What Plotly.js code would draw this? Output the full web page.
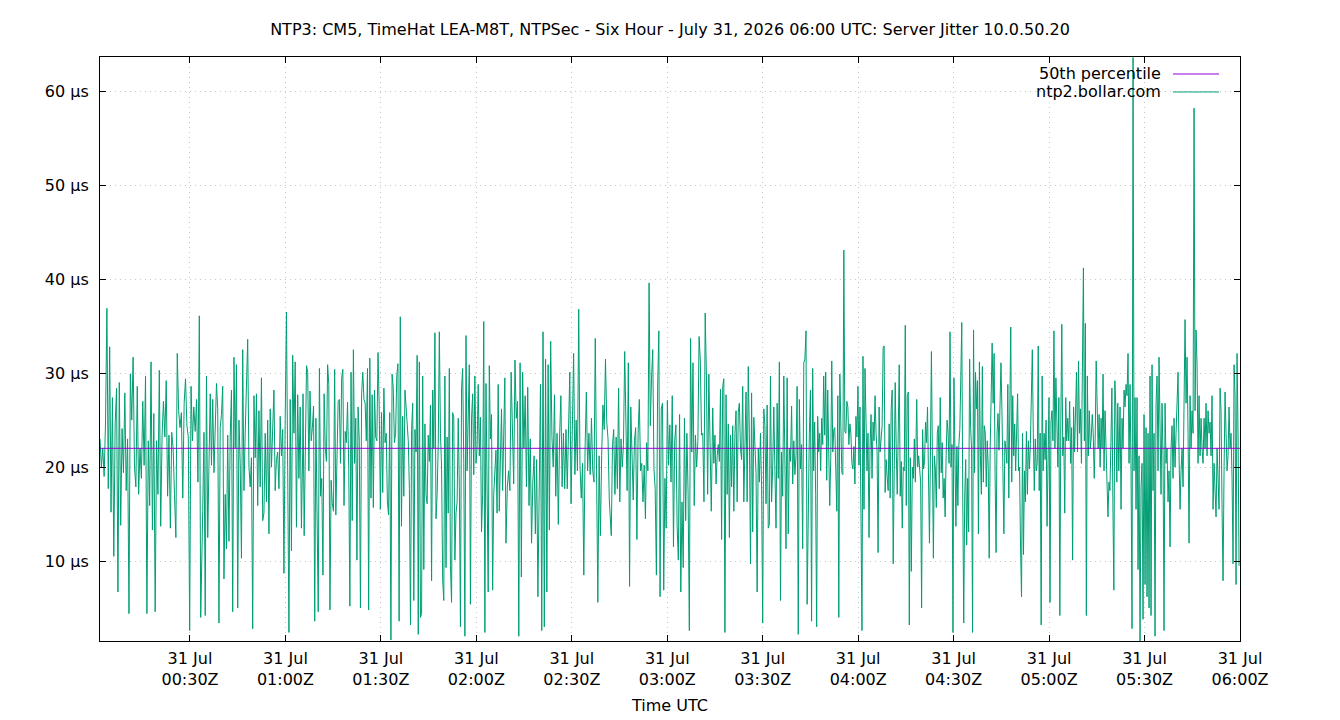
<!DOCTYPE html>
<html>
<head>
<meta charset="utf-8">
<script src="https://cdn.plot.ly/plotly-3.0.1.min.js"></script>
<style>
  html, body { margin: 0; padding: 0; background: #ffffff; }
  #chart { width: 1340px; height: 720px; }
</style>
</head>
<body>
<div id="chart"></div>
<script>
// Server jitter samples for 10.0.50.20 (µs), grouped by half-hour-ish polling blocks.
const day = '2026-07-31';

const jitter_0001 = [23, 20, 22, 19, 24.8, 36.9, 17.7, 32.8, 15.2, 27.4, 10.5, 24.6, 28.4, 6.7, 29, 13.8, 24.1, 19.4, 27.9, 17.5, 23, 4.4, 29.9, 25, 31.7, 20, 17.9, 28.6, 17.1, 22, 18.8, 27, 20.2, 29.7, 4.4, 22.8, 15.9, 31.2, 13.3, 25.7, 4.6, 22.8, 17.1, 30.3, 13.7, 23.4, 27, 23.2, 29.2, 16.9, 23.4, 13.5, 23.7, 22, 17.1, 12.5, 32.1, 26, 24.2, 25.8, 16.7, 26.8, 29.4, 24.4, 23.2, 2.6, 28.6, 22.8, 26.4, 23.8, 27.2, 18.4, 36.1, 4.0];
const jitter_0034 = [15.3, 23.7, 4.2, 29.7, 12.5, 18.4, 27.8, 20.2, 27.2, 19.4, 25.2, 28.9, 26.2, 3.4, 24.2, 25.6, 28.6, 8.1, 17.1, 11.3, 23.4, 12.1, 23.2, 28.2, 4.6, 31.7, 22, 30.9, 5.0, 25, 20.4, 10.3, 32.5, 17.5, 23.6, 27.6, 33.6, 20, 17.9, 21, 2.8, 27.6, 21, 27.8, 15.9, 26, 17.9, 29.5, 14.3, 15.1, 23.6, 16.3, 25, 12.9, 26.2, 20, 24.2, 28.2, 17.5, 20.8, 21.6, 17.7, 25.4, 21.2, 24, 8.7, 25.2, 36.5, 19.6, 2.4, 27.2, 11.1, 31.9, 23.6, 31.2, 13.6, 27.7, 18.8, 26.4, 13.5, 21.6];
const jitter_0105 = [27.8, 12.7, 20.4, 30.8, 30.1, 19.6, 28.1, 22.8, 24.2, 26.5, 3.6, 25.2, 14.9, 4.6, 30.5, 16.9, 18.8, 8.5, 27.8, 22, 20.6, 30.9, 28.8, 4.8, 18.6, 16.1, 15.3, 30.4, 14.9, 21.2, 27, 27.2, 20.4, 29.5, 30.4, 15.9, 23.8, 22.6, 26.9, 19.8, 5.2, 30.1, 14.3, 32.5, 20.4, 25.2, 10.1, 26.4, 22.8, 5.0, 27.8, 30.1, 27.2, 26.8, 22.8, 30.5, 4.8, 31.6, 16.7, 27.7, 15.7, 28.2, 23.2, 22.8, 32.2, 26.4, 15.5, 25.8, 17.3, 28.4, 22.6, 23.6, 16.3, 14.9, 25.8, 1.6, 29.9, 28.4, 22.6, 23.6, 29.7, 31, 3.6, 36, 13.7, 25.4, 16.9, 28.2];
const jitter_0138 = [22.8, 17.7, 3.2, 24, 26.8, 5.8, 24, 21.6, 31.9, 2.2, 31.2, 4.0, 4.4, 29.7, 9.1, 24.6, 17.1, 16.1, 23.4, 20.6, 26.6, 7.9, 28.2, 22, 34.3, 14.5, 17.1, 22.4, 34.4, 23.6, 20, 7.9, 5.8, 29.7, 9.3, 23.2, 15.1, 30.5, 9.5, 5.6, 25.8, 25.3, 10.1, 15.1, 16.3, 25.2, 17.9, 3.0, 28.4, 30.5, 20.4, 2.0, 34, 19.6, 25.2, 30.9, 5.4, 25.2, 27.8, 19.2, 29.7, 20.4, 22, 28.8, 21.2, 25.3, 13.1, 17.1, 35.5, 2.4, 28.9, 20.6, 6.7, 30.8, 23, 25.6, 6.9, 17.1, 19.6, 21.8, 15.1, 28.8, 15.3, 21.2, 26.2, 17.5, 22.4, 29.5, 11.9];
const jitter_0209 = [17.9, 19.6, 17.5, 30.1, 22.8, 18.2, 31.4, 25.2, 27, 2.0, 31.1, 8.3, 30.1, 22, 27.6, 17.9, 28.5, 15.9, 23, 11.9, 18.4, 21.2, 12.9, 20.8, 6.2, 21.2, 28.8, 2.6, 34.4, 3.0, 31.5, 6.7, 30.9, 13.3, 33.4, 23.2, 20, 27.7, 16.9, 23.6, 13.9, 23.2, 27.6, 17.9, 23.6, 17.7, 24, 17.7, 26.2, 30.1, 16.1, 23.2, 32.1, 19.2, 25, 19.6, 36.8, 20.2, 16.7, 20.4, 8.5, 22, 28, 19.6, 23.6, 19.2, 25.2, 19.6, 18.4, 33.7, 21.6, 5.6, 21.2, 12.7, 21.2, 26.6, 24, 31.5, 24.8, 23, 16.5];
const jitter_0242 = [12.7, 22.4, 24, 17.1, 23.2, 17.7, 28.4, 16.3, 23, 20, 22.4, 32.3, 24.8, 17.5, 31.1, 7.3, 26.4, 21.6, 16.5, 22.8, 24.2, 12.3, 23.6, 27.2, 19.6, 20.4, 16.3, 20.2, 14.5, 22.6, 19.6, 39.6, 24.4, 29.4, 32.5, 19.8, 17.7, 8.5, 28.4, 34.5, 6.2, 26.2, 26.8, 6.9, 18.8, 13.5, 27.1, 20.2, 24.5, 18.4, 27.6, 11.5, 22.8, 24.5, 13.7, 10.1, 25.6, 6.7, 16.3, 9.3, 25.2, 14.3, 23.6, 17.1, 2.6, 33.7, 21.6, 31.1, 15.9, 23.4, 20, 22.8, 33.9, 31.4, 23.4, 23.6, 16.3, 36.4, 29.7, 17.1, 29.9, 22.6, 15.3];
const jitter_0314 = [26.3, 20.4, 23.4, 18.2, 21.2, 22.4, 20.6, 28.3, 12.3, 28.6, 29.4, 2.4, 27.7, 17.1, 24.6, 12.5, 23.4, 17.9, 24.4, 15.3, 23.6, 26, 16.3, 25.8, 26.8, 22, 20.8, 28.6, 16.3, 24.4, 28, 16.3, 30.7, 23.6, 9.7, 27.9, 13.1, 25.3, 21.6, 19.4, 6.7, 22, 18.4, 23.6, 17.9, 3.4, 26.2, 24.4, 16.1, 26.6, 13.5, 13.9, 29.7, 16.3, 20, 26.4, 19.6, 13.5, 26.8, 18.8, 31.2, 5.8, 21.6, 16.9, 29.7, 19.6, 11.3, 29.5, 12.9, 22, 20.6, 26.5, 18.2, 22.8, 19.2, 21.2, 28.6, 2.2, 27.2, 19.8, 22.4, 11.3, 31.1, 31.5, 34.5, 5.4, 16.9, 23.6, 28.2, 3.6, 30.5];
const jitter_0346 = [19.6, 24.8, 17.1, 3.0, 25.4, 21.6, 23.6, 19.6, 25.2, 22.4, 29.7, 23.4, 30.1, 18.6, 28.2, 21.6, 15.9, 21, 31.3, 21.6, 24, 24.2, 17.9, 15.3, 27.6, 4.0, 29.9, 26, 19.4, 19.2, 43.1, 23.8, 23.6, 27, 26.4, 22.4, 24.6, 23.6, 20.4, 19.8, 22.2, 18.2, 25.4, 23.2, 28.6, 20.2, 26.4, 14.9, 2.6, 31.8, 15.5, 30.5, 22.8, 19.6, 23.6, 12.5, 22, 25.6, 18.8, 24.8, 22.8, 27.6, 23.6, 21.6, 10.9, 26.4, 21.6, 23.2, 24.4, 32.7, 32.9, 17.3, 20.8, 19, 17.5, 24.6, 16.7, 26.2, 28.2, 9.7, 19.6, 29, 22, 17.1, 23.6, 30.9, 16.9, 20.6, 13.5, 20, 19.6, 35.1, 15.9, 27.6, 28, 3.2, 21, 8.9, 20, 18.8, 23, 18.4];
const jitter_0418 = [27.2, 20, 21.2, 20, 18.4, 5.0, 24, 19.8, 20.6, 24.8, 22.6, 26.4, 18.8, 11.9, 21.6, 32.3, 21.2, 10.3, 21.2, 19.8, 15.7, 23.6, 24.4, 17.7, 27.4, 19.4, 22.6, 16.7, 18.8, 14.7, 21.2, 25, 23.6, 20.4, 34.4, 20, 22.4, 2.4, 29.5, 23.2, 13.7, 22.2, 15.9, 22.4, 24, 29.5, 35.4, 16.7, 3.4, 16.9, 20.8, 11.7, 18.8, 13.1, 31.5, 24.2, 22, 2.4, 34.6, 19.4, 30.1, 26.2, 29.2, 12.9, 31.2, 21.2, 17.1, 30.7, 18.4, 24.4, 23.6, 17.9, 22.8, 20, 10.3, 22, 29.7, 33.2, 26.8, 32.1, 19.2, 10.9, 23.6, 25.7, 21.8, 27, 31.1, 26, 20.4, 12.9, 22.8, 22, 20.4, 28.8, 16.7, 26.4, 34.9, 18.4, 27.6, 21.2, 24.6, 19.6, 26.2];
const jitter_0450 = [27.8, 19.6, 20, 11.5, 6.2, 23.6, 10.7, 19.6, 16.3, 23.8, 17.1, 22.8, 19.8, 22.4, 28, 32.5, 23.6, 17.5, 23, 19.6, 20.4, 32.9, 17.5, 23.6, 3.2, 29.7, 19.6, 23.6, 20.8, 25, 13.7, 22, 27.4, 5.6, 24.8, 26, 22.8, 34.5, 22, 29.5, 23.2, 20, 27.4, 4.2, 24.6, 35.2, 21.2, 23.2, 15.1, 27.4, 22.8, 25.2, 22.8, 27, 20.4, 24.2, 10.1, 26.4, 21.6, 26, 30.1, 21.6, 31.3, 23.6, 26.2, 20.4, 30.9, 41.2, 22.8, 35.3, 4.2, 29.7, 21.2, 26, 22, 23.2, 25.6, 23.6, 18.8, 23.2, 31.3, 25.2, 22, 25.6, 20, 25.2, 22, 29.9, 19.6, 26, 21.2, 18.8, 14.7, 18.4, 17.5, 22.6, 28.4, 16.3, 6.9, 29.2, 26.4, 18.4, 26.8, 19.6];
const jitter_0522 = [26.4, 15.5, 25.2, 22, 28.2, 26.4, 28.8, 27.6, 32.1, 20.4, 28.8, 19.6, 2.8, 63.6, 19.6, 27.4, 15.5, 27.4, 9.1, 21.2, 1.5, 17.9, 20.4, 3.8, 25.6, 7.5, 24.2, 6.2, 23.6, 5.0, 29.7, 4.2, 30.9, 17.5, 23.6, 2.0, 26.8, 29.7, 19.6, 31.7, 21.2, 17.1, 26.8, 21.2, 2.6, 26.8, 20.4, 22, 16.3, 19.6, 11.5, 22, 24.4, 18.8, 25.2, 20, 23.6, 28.4, 30.1, 21.2, 15.5, 19.6, 22, 17.9, 26, 35.7, 26.8, 31.7, 23.6, 11.9, 27.6, 22, 26, 23.6, 58.2, 26, 34.6, 30.9, 20.4, 27.6, 21.2, 25.2, 22, 20.4, 25.2, 22, 26.8, 21.2, 26, 23.6, 24.8, 21.2, 27.6, 15.5, 20.4, 17.9, 14.7, 22, 17.5, 15.5, 28.4, 26, 15.5, 7.9, 19.6, 28, 23.6, 19.6, 21.2, 26.4, 22, 23.6, 18.8, 9.7, 30.9, 27.6, 7.5, 32.1, 23.6, 9.5];

// First and last sample time of each block (UTC)
const blockStart = ['00:01:43', '00:34:00', '01:05:31', '01:38:36', '02:09:44', '02:42:24', '03:14:17', '03:46:00', '04:18:24', '04:50:06', '05:22:18'];
const blockEnd   = ['00:33:22', '01:05:25', '01:37:34', '02:09:18', '02:41:47', '03:13:50', '03:45:42', '04:17:58', '04:49:48', '05:21:54', '05:59:42'];
const blockValues = [jitter_0001, jitter_0034, jitter_0105, jitter_0138, jitter_0209, jitter_0242, jitter_0314, jitter_0346, jitter_0418, jitter_0450, jitter_0522];

// 50th percentile of the jitter over the window (µs)
const p50Jitter = 22.0;

const yTickVals = [10, 20, 30, 40, 50, 60];
const yTickText = ['10 µs', '20 µs', '30 µs', '40 µs', '50 µs', '60 µs'];
const xTickTimes = ['00:30', '01:00', '01:30', '02:00', '02:30', '03:00', '03:30', '04:00', '04:30', '05:00', '05:30', '06:00'];
const xTickText = xTickTimes.map(t => '31 Jul<br>' + t + 'Z');

const rangeStart = day + ' 00:01:43';
const rangeEnd = day + ' 06:00:00';
const yRange = [1.49, 63.65];

function toMs(hms) {
  return Date.parse(day + 'T' + hms + 'Z');
}
function fmt(ms) {
  return new Date(ms).toISOString().replace('T', ' ').replace('Z', '');
}

// Spread each block's samples across its own time span
const times = [];
const jitter = [];
blockValues.forEach((vals, b) => {
  const t0 = toMs(blockStart[b]);
  const t1 = toMs(blockEnd[b]);
  const step = vals.length > 1 ? (t1 - t0) / (vals.length - 1) : 0;
  vals.forEach((v, i) => {
    times.push(fmt(t0 + i * step));
    jitter.push(v);
  });
});

const FONT = '"DejaVu Sans", "Liberation Sans", sans-serif';
const FS = 16;

const traces = [
  {
    type: 'scatter', mode: 'lines',
    x: times, y: jitter,
    line: { color: '#009e73', width: 1 },
    name: 'ntp2.bollar.com',
    hoverinfo: 'skip'
  },
  {
    type: 'scatter', mode: 'lines',
    x: [rangeStart, rangeEnd], y: [p50Jitter, p50Jitter],
    line: { color: '#9400d3', width: 1 },
    name: '50th percentile',
    hoverinfo: 'skip'
  }
];

const gridCol = '#c8c8c8';

const layout = {
  width: 1340, height: 720,
  paper_bgcolor: '#ffffff', plot_bgcolor: '#ffffff',
  margin: { l: 100, r: 100, t: 57, b: 79, pad: 0 },
  showlegend: false,
  font: { family: FONT, size: FS, color: '#000000' },
  title: {
    text: 'NTP3: CM5, TimeHat LEA-M8T, NTPSec - Six Hour - July 31, 2026 06:00 UTC: Server Jitter 10.0.50.20',
    font: { family: FONT, size: FS, color: '#000000' },
    x: 0.5, xanchor: 'center', xref: 'container',
    y: 1 - 29 / 720, yanchor: 'middle', yref: 'container'
  },
  xaxis: {
    type: 'date',
    range: [rangeStart, rangeEnd],
    tickmode: 'array',
    tickvals: xTickTimes.map(t => day + ' ' + t),
    ticktext: xTickText,
    ticks: 'inside', ticklen: 6, tickcolor: '#000000', tickwidth: 1,
    showline: true, linecolor: '#000000', linewidth: 1, mirror: 'allticks',
    showgrid: true, gridcolor: gridCol, gridwidth: 1, griddash: '1px,4px',
    zeroline: false,
    tickfont: { family: FONT, size: FS, color: '#000000' },
    ticklabelstandoff: 3,
    title: { text: 'Time UTC', font: { family: FONT, size: FS, color: '#000000' }, standoff: 11 },
    automargin: false
  },
  yaxis: {
    range: yRange,
    tickmode: 'array',
    tickvals: yTickVals,
    ticktext: yTickText,
    ticks: 'inside', ticklen: 6, tickcolor: '#000000', tickwidth: 1,
    showline: true, linecolor: '#000000', linewidth: 1, mirror: 'allticks',
    showgrid: true, gridcolor: gridCol, gridwidth: 1, griddash: '1px,4px',
    zeroline: false,
    tickfont: { family: FONT, size: FS, color: '#000000' },
    ticklabelstandoff: 7,
    automargin: false
  },
  // Key drawn gnuplot-style: label on the left, line sample on the right
  annotations: [
    { xref: 'paper', yref: 'paper', x: 0.9325, y: 0.9709, xanchor: 'right', yanchor: 'middle',
      text: '50th percentile', showarrow: false, font: { family: FONT, size: FS, color: '#000000' } },
    { xref: 'paper', yref: 'paper', x: 0.9325, y: 0.9401, xanchor: 'right', yanchor: 'middle',
      text: 'ntp2.bollar.com', showarrow: false, font: { family: FONT, size: FS, color: '#000000' } }
  ],
  shapes: [
    { type: 'line', xref: 'paper', yref: 'paper', x0: 0.9412, x1: 0.9816, y0: 0.9709, y1: 0.9709,
      line: { color: '#9400d3', width: 1 } },
    { type: 'line', xref: 'paper', yref: 'paper', x0: 0.9412, x1: 0.9816, y0: 0.9401, y1: 0.9401,
      line: { color: '#009e73', width: 1 } }
  ]
};

Plotly.newPlot('chart', traces, layout, { displayModeBar: false, staticPlot: true });
</script>
</body>
</html>
